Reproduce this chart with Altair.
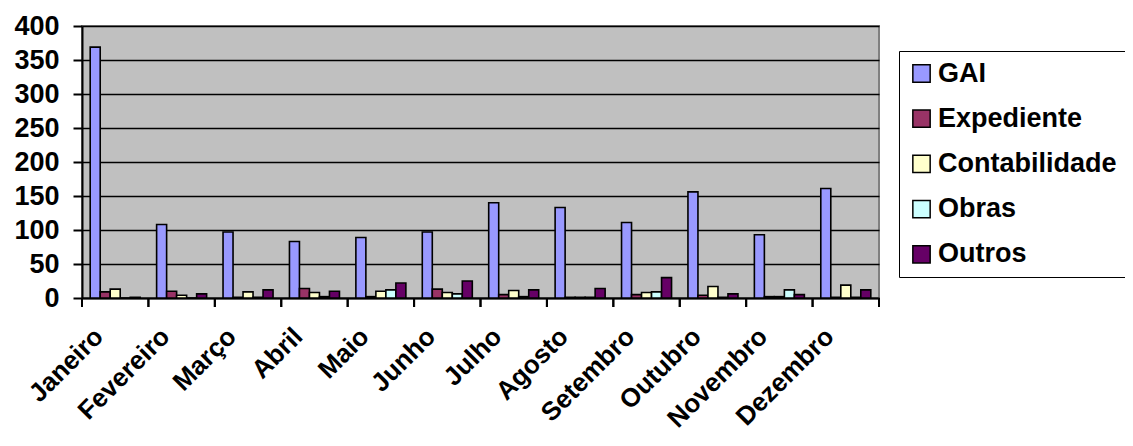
import altair as alt
import pandas as pd

months = ["Janeiro", "Fevereiro", "Março", "Abril", "Maio", "Junho", "Julho",
          "Agosto", "Setembro", "Outubro", "Novembro", "Dezembro"]
series = ["GAI", "Expediente", "Contabilidade", "Obras", "Outros"]
colors = ["#9999FF", "#993366", "#FFFFCC", "#CCFFFF", "#660066"]

GAI = [369, 108, 97, 83, 89, 97, 140, 133, 111, 156, 93, 161]
Expediente = [9, 10, 1, 14, 2, 13, 5, 1, 5, 4, 2, 1]
Contabilidade = [13, 4, 9, 8, 10, 8, 11, 1, 8, 17, 2, 19]
Obras = [0, 0, 1, 2, 12, 6, 2, 1, 9, 1, 12, 1]
Outros = [1, 6, 12, 10, 22, 25, 12, 14, 30, 6, 5, 12]
y_ticks = [0, 50, 100, 150, 200, 250, 300, 350, 400]

vals = {"GAI": GAI, "Expediente": Expediente, "Contabilidade": Contabilidade,
        "Obras": Obras, "Outros": Outros}
rows = []
for s in series:
    for m, v in zip(months, vals[s]):
        rows.append({"Mes": m, "Serie": s, "Valor": v})
df = pd.DataFrame(rows)
mdf = pd.DataFrame({"Mes": months})

FONT = "Liberation Sans"
W, H = 797, 272

xscale = alt.Scale(paddingInner=0, paddingOuter=0)

bars = alt.Chart(df).mark_bar(stroke="black", strokeWidth=1.6).encode(
    x=alt.X("Mes:N", sort=months, scale=xscale,
            axis=alt.Axis(title=None, labelAngle=-45, labelAlign="right",
                          labelBaseline="middle", labelFontSize=26, labelFont=FONT,
                          labelFontWeight="bold", labelColor="black",
                          labelPadding=34, labelOffset=-16, ticks=False,
                          domainColor="black", domainWidth=2, grid=False)),
    xOffset=alt.XOffset("Serie:N", sort=series,
                        scale=alt.Scale(paddingInner=0, paddingOuter=0.82)),
    y=alt.Y("Valor:Q", scale=alt.Scale(domain=[0, 400], nice=False),
            axis=alt.Axis(title=None, values=y_ticks, labelFontSize=27,
                          labelFont=FONT, labelFontWeight="bold",
                          labelColor="black", tickColor="black", tickSize=9,
                          tickWidth=2, domainColor="black", domainWidth=2,
                          gridColor="black", gridWidth=1.6, labelPadding=14)),
    fill=alt.Fill("Serie:N", sort=series,
                  scale=alt.Scale(domain=series, range=colors),
                  legend=alt.Legend(title=None, orient="none", legendX=817,
                                    legendY=25, fillColor="white",
                                    strokeColor="black", padding=9,
                                    symbolType="square", symbolSize=300,
                                    symbolStrokeColor="black",
                                    symbolStrokeWidth=1.5, labelFontSize=27,
                                    labelFont=FONT, labelFontWeight="bold",
                                    labelColor="black", labelOffset=3,
                                    rowPadding=17.2, labelLimit=400)),
)

tick_l = alt.Chart(mdf).mark_rule(color="black", strokeWidth=2).encode(
    x=alt.X("Mes:N", sort=months, scale=xscale, bandPosition=0),
    y=alt.value(H), y2=alt.value(H + 9))
tick_r = alt.Chart(mdf).mark_rule(color="black", strokeWidth=2).encode(
    x=alt.X("Mes:N", sort=months, scale=xscale, bandPosition=1),
    y=alt.value(H), y2=alt.value(H + 9))

chart = alt.layer(bars, tick_l, tick_r).properties(
    width=W, height=H,
    autosize=alt.AutoSizeParams(type="none"),
    padding={"left": 74, "top": 18, "right": 1117 - 74 - W, "bottom": 430 - 18 - H},
    background="white",
).configure_view(fill="#C0C0C0", stroke="#808080", strokeWidth=2)

chart.save("out.html", embed_options={"renderer": "svg", "actions": False})
